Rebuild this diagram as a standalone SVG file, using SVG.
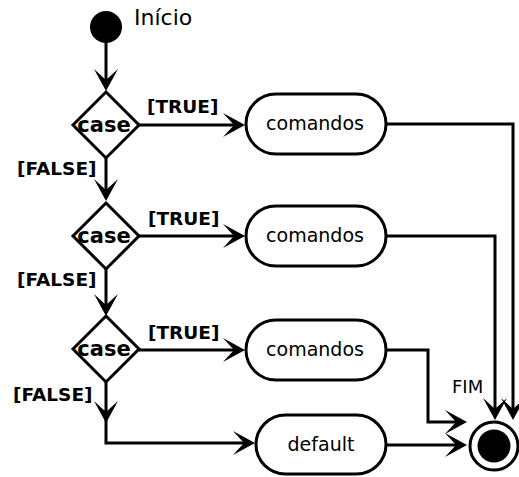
<svg xmlns="http://www.w3.org/2000/svg" width="519" height="477" viewBox="0 0 519 477">
<style>
.ln{fill:none;stroke:#000;stroke-width:3;stroke-linejoin:miter}
.shape{fill:#fff;stroke:#000;stroke-width:3}
.b{font-family:"DejaVu Sans",sans-serif;font-weight:bold;font-size:18.5px;fill:#000}
.c{font-family:"DejaVu Sans",sans-serif;font-weight:bold;font-size:21px;fill:#000}
.r{font-family:"DejaVu Sans",sans-serif;font-size:19px;fill:#000}
</style>
<defs>
<marker id="ah" viewBox="-13 -13 24 26" refX="0" refY="0" markerWidth="24" markerHeight="26" orient="auto" markerUnits="userSpaceOnUse">
<path d="M10,0 L-12,-12 L-1,0 L-12,12 Z" fill="#000"/>
</marker>
</defs>
<g id="connectors">
<path class="ln" d="M106,43 V81" marker-end="url(#ah)"/>
<path class="ln" d="M106,158 V191" marker-end="url(#ah)"/>
<path class="ln" d="M106,269 V306" marker-end="url(#ah)"/>
<path class="ln" d="M106,382 V413" marker-end="url(#ah)"/>
<path class="ln" d="M106,410 V443 H245" marker-end="url(#ah)"/>
<path class="ln" d="M139,125 H235" marker-end="url(#ah)"/>
<path class="ln" d="M139,236 H235" marker-end="url(#ah)"/>
<path class="ln" d="M139,350 H235" marker-end="url(#ah)"/>
<path class="ln" d="M386,124 H513 V410" marker-end="url(#ah)"/>
<path class="ln" d="M386,236 H495 V410" marker-end="url(#ah)"/>
<path class="ln" d="M386,350 H428 V422 H457" marker-end="url(#ah)"/>
<path class="ln" d="M386,445 H457" marker-end="url(#ah)"/>
</g>
<g id="inicio">
<circle cx="106" cy="27" r="16" fill="#000"/>
<text class="r" x="134" y="25" style="font-size:22px">Início</text>
</g>
<g id="case1">
<path class="shape" d="M106,92 L139,125 L106,158 L73,125 Z"/>
<text class="c" x="104" y="132" text-anchor="middle">case</text>
</g>
<g id="case2">
<path class="shape" d="M106,203 L139,236 L106,269 L73,236 Z"/>
<text class="c" x="104" y="243" text-anchor="middle">case</text>
</g>
<g id="case3">
<path class="shape" d="M106,316 L139,349 L106,382 L73,349 Z"/>
<text class="c" x="104" y="356" text-anchor="middle">case</text>
</g>
<g id="labels">
<text class="b" x="147" y="113">[TRUE]</text>
<text class="b" x="148" y="225">[TRUE]</text>
<text class="b" x="148" y="339">[TRUE]</text>
<text class="b" x="17" y="175">[FALSE]</text>
<text class="b" x="17" y="286">[FALSE]</text>
<text class="b" x="13" y="401">[FALSE]</text>
</g>
<g id="cmd1">
<rect class="shape" x="246" y="94" width="140" height="60" rx="30"/>
<text class="r" x="315" y="130" text-anchor="middle">comandos</text>
</g>
<g id="cmd2">
<rect class="shape" x="246" y="206" width="140" height="60" rx="30"/>
<text class="r" x="315" y="242" text-anchor="middle">comandos</text>
</g>
<g id="cmd3">
<rect class="shape" x="246" y="320" width="140" height="60" rx="30"/>
<text class="r" x="315" y="356" text-anchor="middle">comandos</text>
</g>
<g id="default">
<rect class="shape" x="256" y="415" width="130" height="59" rx="29.5"/>
<text class="r" x="321" y="451" text-anchor="middle">default</text>
</g>
<g id="fim">
<circle cx="494" cy="446" r="24" fill="#fff" stroke="#000" stroke-width="3"/>
<circle cx="494" cy="446" r="16.5" fill="#000"/>
<text class="r" x="452" y="393" style="font-size:18px">FIM</text>
</g>
</svg>
